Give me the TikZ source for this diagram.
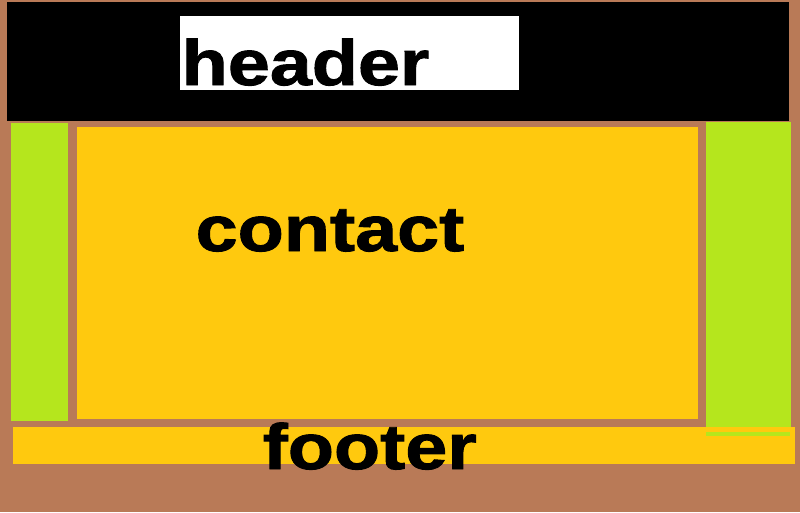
\documentclass[tikz,border=0pt]{standalone}
\usepackage{fontspec}
\newfontfamily\labelfont[FakeStretch=1.18,FakeBold=1.5]{Liberation Sans}
\usetikzlibrary{positioning}
\definecolor{paintbrown}{RGB}{185,122,87}
\definecolor{paintgold}{RGB}{255,201,14}
\definecolor{paintlime}{RGB}{181,230,29}

\begin{document}
\begin{tikzpicture}[x=0.01cm,y=-0.01cm,
  lbl/.style={anchor=base west,inner sep=0pt,font=\labelfont\bfseries\fontsize{18.2}{20}\selectfont}]
\fill[paintbrown] (0,0) rectangle (800,512);
\fill[black] (7,2) rectangle (789,121);
\fill[white] (180,16) rectangle (519,90);
\fill[paintlime] (11,123) rectangle (68,421);
\fill[paintgold] (77,127) rectangle (698,419);
\fill[paintlime] (706,122) rectangle (791,427);
\fill[paintgold] (13,427) rectangle (795,464);
\fill[paintlime] (706,432) rectangle (790,436);
\node (header) at (181,85) [lbl] {header};
\node (contact) at (195,251) [lbl] {contact};
\node (footer) at (262,469) [lbl] {footer};
\end{tikzpicture}
\end{document}
